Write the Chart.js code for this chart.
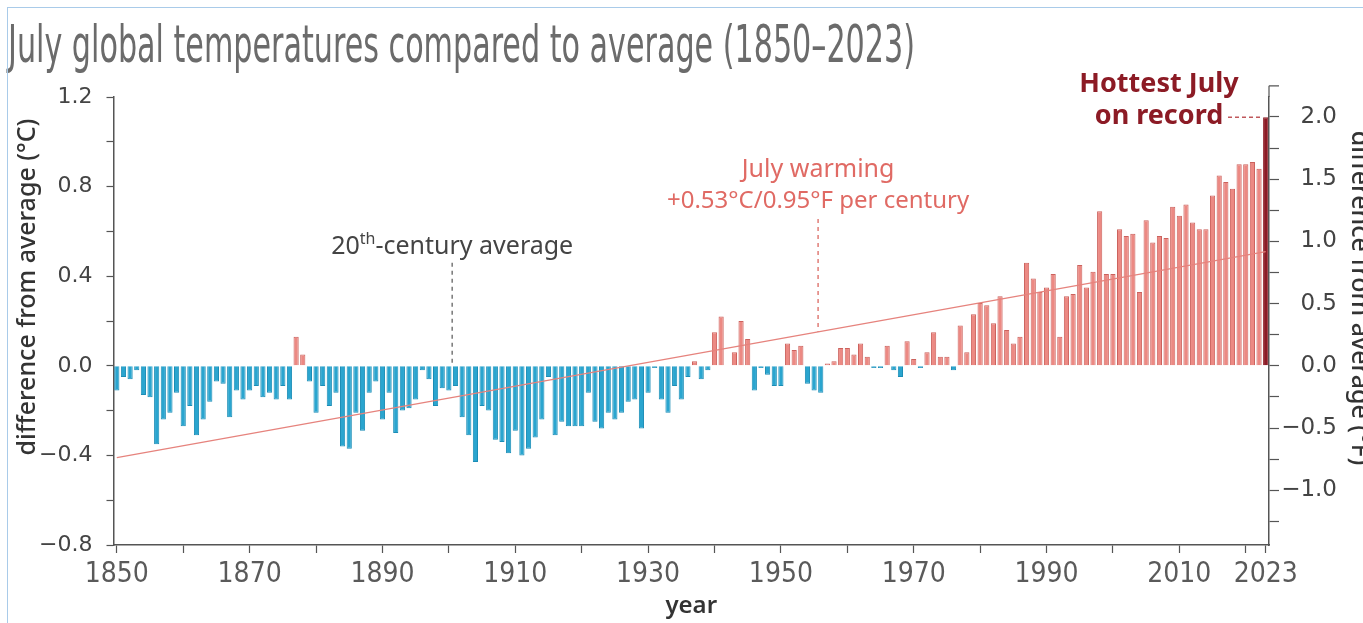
<!DOCTYPE html>
<html>
<head>
<meta charset="utf-8">
<script src="https://cdn.jsdelivr.net/npm/chart.js@4.4.0/dist/chart.umd.min.js"></script>
<style>
  html, body { margin: 0; padding: 0; background: #fff; }
  #wrap { position: relative; width: 1363px; height: 623px; overflow: hidden; }
  #frame { position: absolute; left: 7px; top: 7px; width: 1400px; height: 700px;
           border-top: 1px solid #a9cbe9; border-left: 1px solid #a9cbe9; pointer-events: none; }
  canvas { display: block; }
</style>
</head>
<body>
<div id="wrap">
  <canvas id="chart" width="1363" height="623"></canvas>
  <div id="frame"></div>
</div>
<script>
const titleText = 'July global temperatures compared to average (1850\u20132023)';

const years = [];
for (let y = 1850; y <= 2023; y++) years.push(String(y));

// July anomaly vs 20th-century average, °C
const anomalies = [
  -0.11, -0.05, -0.06, -0.02, -0.13, -0.14, -0.35, -0.24, -0.21, -0.12, // 1850s
  -0.27, -0.18, -0.31, -0.24, -0.16, -0.07, -0.08, -0.23, -0.11, -0.15, // 1860s
  -0.11, -0.09, -0.14, -0.12, -0.15, -0.09, -0.15, 0.13, 0.05, -0.07,   // 1870s
  -0.21, -0.09, -0.18, -0.12, -0.36, -0.37, -0.21, -0.29, -0.12, -0.07, // 1880s
  -0.24, -0.12, -0.30, -0.20, -0.19, -0.15, -0.02, -0.06, -0.18, -0.10, // 1890s
  -0.11, -0.09, -0.23, -0.31, -0.43, -0.18, -0.20, -0.33, -0.34, -0.39, // 1900s
  -0.29, -0.40, -0.37, -0.32, -0.24, -0.05, -0.31, -0.25, -0.27, -0.27, // 1910s
  -0.27, -0.12, -0.25, -0.28, -0.21, -0.24, -0.21, -0.16, -0.15, -0.28, // 1920s
  -0.12, -0.01, -0.15, -0.21, -0.09, -0.15, -0.05, 0.02, -0.06, -0.02,  // 1930s
  0.15, 0.22, 0.00, 0.06, 0.20, 0.12, -0.11, -0.01, -0.04, -0.09,       // 1940s
  -0.09, 0.10, 0.07, 0.09, -0.08, -0.11, -0.12, 0.01, 0.02, 0.08,       // 1950s
  0.08, 0.05, 0.10, 0.04, -0.01, -0.01, 0.09, -0.02, -0.05, 0.11,       // 1960s
  0.03, -0.01, 0.06, 0.15, 0.04, 0.04, -0.02, 0.18, 0.06, 0.23,         // 1970s
  0.28, 0.27, 0.19, 0.31, 0.16, 0.10, 0.13, 0.46, 0.39, 0.33,           // 1980s
  0.35, 0.41, 0.13, 0.31, 0.32, 0.45, 0.35, 0.42, 0.69, 0.41,           // 1990s
  0.41, 0.61, 0.58, 0.59, 0.33, 0.65, 0.55, 0.58, 0.57, 0.71,           // 2000s
  0.67, 0.72, 0.64, 0.61, 0.61, 0.76, 0.85, 0.82, 0.79, 0.90,           // 2010s
  0.90, 0.91, 0.88, 1.11                                                // 2020s
];

// linear trend, °C at 1850 and at 2023
const trendEnds = [-0.41, 0.51];
const trendLine = years.map((y, i) => i === 0 ? trendEnds[0] : (i === years.length - 1 ? trendEnds[1] : null));

const labelYears = ['1850', '1870', '1890', '1910', '1930', '1950', '1970', '1990', '2010', '2023'];

const BLUE = '#2aa5cf', BLUE_EDGE = '#1b8db6';
const RED = '#ec8983', RED_EDGE = '#cc625d';
const DARK = '#8c1b25';

function fmt(v) {
  return v.toFixed(1).replace('-', '\u2212');
}
function isMark(year) {
  return year % 10 === 0 || year === 2023;
}

function barColor(c, edge) {
  const i = c.dataIndex;
  if (i === anomalies.length - 1) return DARK;
  return anomalies[i] >= 0 ? (edge ? RED_EDGE : RED) : (edge ? BLUE_EDGE : BLUE);
}

const overlay = {
  id: 'overlay',
  afterDraw(chart) {
    const { ctx, chartArea: a, scales } = chart;
    const x = scales.x, y = scales.y;
    const xAt = yr => x.getPixelForValue(yr - 1850);

    ctx.save();

    // title, condensed
    ctx.fillStyle = '#6b6b6b';
    ctx.font = '51px "Liberation Sans Narrow", "DejaVu Sans Condensed", sans-serif';
    ctx.textAlign = 'left';
    ctx.textBaseline = 'alphabetic';
    const tw = ctx.measureText(titleText).width;
    ctx.save();
    ctx.translate(8, 62);
    ctx.scale(907 / tw, 1);
    ctx.fillText(titleText, 0, 0);
    ctx.restore();

    // axis titles
    ctx.fillStyle = '#333';
    ctx.font = '500 25px "Noto Sans", sans-serif';
    ctx.textAlign = 'center';
    ctx.textBaseline = 'middle';
    ctx.save();
    ctx.translate(28, 287);
    ctx.rotate(-Math.PI / 2);
    ctx.fillText('difference from average (\u00b0C)', 0, 0);
    ctx.restore();
    ctx.save();
    ctx.translate(1359, 298);
    ctx.rotate(Math.PI / 2);
    ctx.fillText('difference from average (\u00b0F)', 0, 0);
    ctx.restore();

    // right axis runs a bit above the plot
    ctx.strokeStyle = '#555';
    ctx.lineWidth = 1.2;
    const yTop = y.getPixelForValue(1.25);
    ctx.beginPath();
    ctx.moveTo(a.right, a.top);
    ctx.lineTo(a.right, yTop);
    ctx.moveTo(a.right, yTop);
    ctx.lineTo(a.right + 10, yTop);
    ctx.stroke();

    // 20th-century average
    const ax = xAt(1900.5);
    ctx.setLineDash([4, 4]);
    ctx.strokeStyle = '#777';
    ctx.lineWidth = 1.5;
    ctx.beginPath();
    ctx.moveTo(ax, y.getPixelForValue(0.46));
    ctx.lineTo(ax, y.getPixelForValue(0.01));
    ctx.stroke();

    ctx.fillStyle = '#444';
    ctx.textAlign = 'left';
    ctx.textBaseline = 'alphabetic';
    const big = '25px "Noto Sans", sans-serif';
    const sup = '16px "Noto Sans", sans-serif';
    ctx.font = big;
    const w1 = ctx.measureText('20').width;
    const w3 = ctx.measureText('-century average').width;
    ctx.font = sup;
    const w2 = ctx.measureText('th').width;
    const tx = ax - (w1 + w2 + w3) / 2;
    const ty = 254;
    ctx.font = big;
    ctx.fillText('20', tx, ty);
    ctx.font = sup;
    ctx.fillText('th', tx + w1, ty - 10);
    ctx.font = big;
    ctx.fillText('-century average', tx + w1 + w2, ty);

    // July warming trend note
    const wx = xAt(1955.6);
    const trendAt = trendEnds[0] + (trendEnds[1] - trendEnds[0]) * (1955.6 - 1850) / 173;
    ctx.strokeStyle = '#e07d77';
    ctx.beginPath();
    ctx.moveTo(wx, y.getPixelForValue(0.655));
    ctx.lineTo(wx, y.getPixelForValue(trendAt));
    ctx.stroke();

    ctx.fillStyle = '#e06a64';
    ctx.textAlign = 'center';
    ctx.textBaseline = 'middle';
    ctx.font = '25px "Noto Sans", sans-serif';
    ctx.fillText('July warming', wx, 170);
    ctx.font = '24px "Noto Sans", sans-serif';
    ctx.fillText('+0.53\u00b0C/0.95\u00b0F per century', wx, 201);

    // hottest July
    const last = anomalies.length - 1;
    const hy = y.getPixelForValue(anomalies[last]);
    ctx.fillStyle = DARK;
    ctx.font = 'bold 27px "Noto Sans", sans-serif';
    ctx.fillText('Hottest July', 1159, 84);
    ctx.fillText('on record', 1159, 116);
    ctx.setLineDash([4, 3]);
    ctx.strokeStyle = '#c0585c';
    ctx.beginPath();
    ctx.moveTo(1228, hy);
    ctx.lineTo(x.getPixelForValue(last) - 3, hy);
    ctx.stroke();

    ctx.restore();
  }
};

new Chart(document.getElementById('chart'), {
  data: {
    labels: years,
    datasets: [
      {
        type: 'line',
        data: trendLine,
        borderColor: '#e6837d',
        borderWidth: 1.3,
        pointRadius: 0,
        spanGaps: true,
        order: 0
      },
      {
        type: 'bar',
        data: anomalies,
        backgroundColor: c => barColor(c, false),
        borderColor: c => barColor(c, true),
        borderWidth: 1,
        borderSkipped: 'start',
        categoryPercentage: 1.0,
        barPercentage: 0.78,
        order: 1
      }
    ]
  },
  options: {
    responsive: false,
    animation: false,
    layout: { padding: { top: 97, left: 0, right: 26, bottom: 0 } },
    plugins: { legend: { display: false }, tooltip: { enabled: false } },
    scales: {
      x: {
        type: 'category',
        offset: true,
        afterFit: s => { s.height = 78; },
        grid: {
          offset: false,
          drawOnChartArea: false,
          tickLength: 8,
          tickWidth: 1.2,
          tickColor: c => isMark(Number(years[c.index])) ? '#555' : 'rgba(0,0,0,0)'
        },
        border: { display: true, color: '#555', width: 1.5 },
        ticks: {
          autoSkip: false,
          maxRotation: 0,
          padding: 5,
          color: '#5a5a5a',
          font: { family: '"Liberation Sans Narrow", "DejaVu Sans Condensed", sans-serif', size: 28 },
          callback: (v, i) => labelYears.includes(years[i]) ? years[i] : ''
        },
        title: {
          display: true,
          text: 'year',
          color: '#333',
          font: { family: '"Noto Sans", sans-serif', size: 24, weight: '600' },
          padding: { top: 0, bottom: 2 }
        }
      },
      y: {
        position: 'left',
        min: -0.8,
        max: 1.2,
        afterFit: s => { s.width = 113.5; },
        grid: { drawOnChartArea: false, tickLength: 7, tickColor: '#555', tickWidth: 1.2 },
        border: { display: true, color: '#555', width: 1.5 },
        ticks: {
          stepSize: 0.2,
          padding: 14,
          color: '#444',
          font: { family: '"DejaVu Sans", sans-serif', size: 22 },
          callback: v => Math.round(v * 10) % 4 === 0 ? fmt(v) : ''
        }
      },
      y2: {
        position: 'right',
        min: -0.8 * 1.8,
        max: 1.2 * 1.8,
        afterFit: s => { s.width = 68; },
        grid: { drawOnChartArea: false, tickLength: 10, tickColor: '#555', tickWidth: 1.2 },
        border: { display: true, color: '#555', width: 1.5 },
        ticks: {
          stepSize: 0.25,
          includeBounds: false,
          crossAlign: 'far',
          color: '#444',
          font: { family: '"DejaVu Sans", sans-serif', size: 23 },
          callback: v => Math.abs(v * 2 - Math.round(v * 2)) < 1e-6 ? fmt(v) : ''
        }
      }
    }
  },
  plugins: [overlay]
});
</script>
</body>
</html>
